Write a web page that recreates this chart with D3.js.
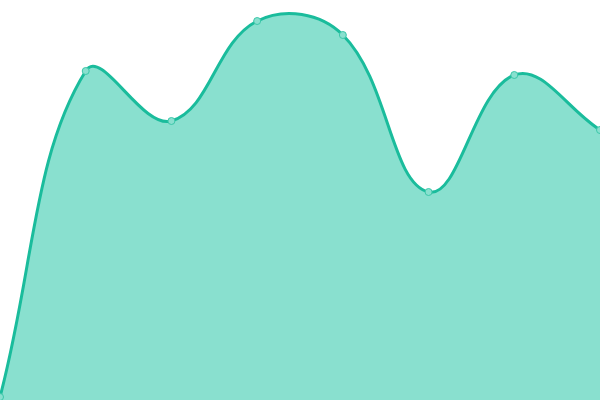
<!DOCTYPE html>
<html>
<head>
<meta charset="utf-8">
<script src="https://cdn.jsdelivr.net/npm/d3@7"></script>
<style>
  html, body { margin: 0; padding: 0; background: #fff; }
  svg { display: block; }
</style>
</head>
<body>
<div id="chart"></div>
<script>
const labels = ["P1", "P2", "P3", "P4", "P5", "P6", "P7", "P8"];
const values = [0.75, 82.25, 69.75, 94.75, 91.25, 52, 81.25, 67.5];

const width = 600;
const height = 400;

const svg = d3.select("#chart")
  .append("svg")
  .attr("width", width)
  .attr("height", height);

const x = d3.scalePoint()
  .domain(labels)
  .range([0, width]);

const y = d3.scaleLinear()
  .domain([0, 100])
  .range([height, 0]);

const data = labels.map((l, i) => ({ label: l, value: values[i] }));

// distance-weighted bezier spline (tension 0.4), control points kept inside the plot
function SplineCurve(context) { this._context = context; }
SplineCurve.prototype = {
  areaStart() { this._line = 0; },
  areaEnd() { this._line = NaN; },
  lineStart() { this._x = []; this._y = []; },
  point(px, py) { this._x.push(+px); this._y.push(+py); },
  lineEnd() {
    const xs = this._x, ys = this._y, n = xs.length, ctx = this._context, t = 0.4;
    const clampX = v => Math.max(0, Math.min(width, v));
    const clampY = v => Math.max(0, Math.min(height, v));
    if (n) {
      this._line ? ctx.lineTo(xs[0], ys[0]) : ctx.moveTo(xs[0], ys[0]);
      if (n === 2) ctx.lineTo(xs[1], ys[1]);
      else if (n > 2) {
        const cp = xs.map((cx, i) => {
          const px = i > 0 ? xs[i - 1] : cx, py = i > 0 ? ys[i - 1] : ys[i];
          const nx = i < n - 1 ? xs[i + 1] : cx, ny = i < n - 1 ? ys[i + 1] : ys[i];
          const d01 = Math.hypot(cx - px, ys[i] - py);
          const d12 = Math.hypot(nx - cx, ny - ys[i]);
          let s01 = d01 / (d01 + d12), s12 = d12 / (d01 + d12);
          if (isNaN(s01)) s01 = 0;
          if (isNaN(s12)) s12 = 0;
          const fa = t * s01, fb = t * s12;
          return {
            inX: clampX(cx - fa * (nx - px)), inY: clampY(ys[i] - fa * (ny - py)),
            outX: clampX(cx + fb * (nx - px)), outY: clampY(ys[i] + fb * (ny - py))
          };
        });
        for (let i = 1; i < n; i++) {
          ctx.bezierCurveTo(cp[i - 1].outX, cp[i - 1].outY, cp[i].inX, cp[i].inY, xs[i], ys[i]);
        }
      }
    }
    if (this._line || (this._line !== 0 && n === 1)) ctx.closePath();
    this._line = 1 - this._line;
    this._x = this._y = null;
  }
};
const curve = ctx => new SplineCurve(ctx);

const area = d3.area()
  .x(d => x(d.label))
  .y0(height)
  .y1(d => y(d.value))
  .curve(curve);

const line = d3.line()
  .x(d => x(d.label))
  .y(d => y(d.value))
  .curve(curve);

svg.append("path")
  .datum(data)
  .attr("d", area)
  .attr("fill", "#89e0cf");

svg.append("path")
  .datum(data)
  .attr("d", line)
  .attr("fill", "none")
  .attr("stroke", "#1abc9c")
  .attr("stroke-width", 3);

svg.selectAll(".pt")
  .data(data)
  .enter()
  .append("circle")
  .attr("class", "pt")
  .attr("cx", d => x(d.label))
  .attr("cy", d => y(d.value))
  .attr("r", 3.5)
  .attr("fill", "#89e0cf")
  .attr("stroke", "#3cc7a9")
  .attr("stroke-width", 1);
</script>
</body>
</html>
